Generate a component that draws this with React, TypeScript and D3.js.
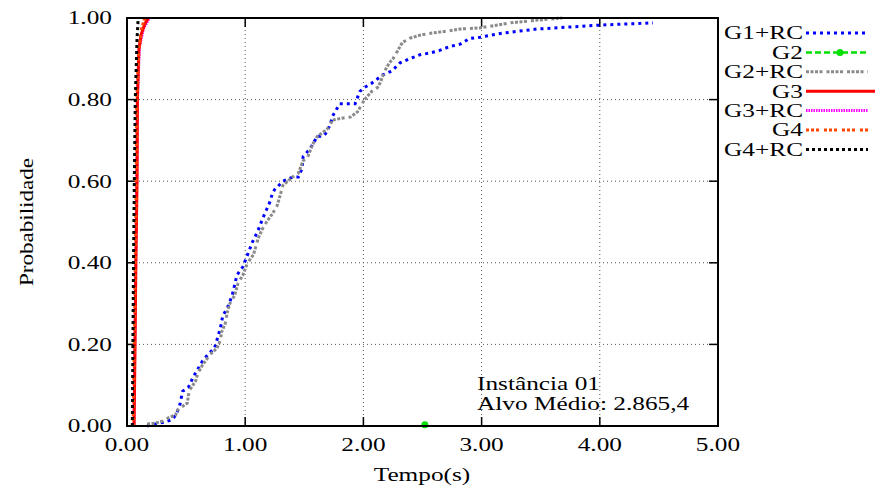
import React from 'react';
import * as d3 from 'd3';

// [tempo, probabilidade]
const g1rc: [number, number][] = [
  [0.17, 0.0], [0.32, 0.01], [0.38, 0.015], [0.42, 0.03], [0.45, 0.055], [0.47, 0.085],
  [0.52, 0.095], [0.56, 0.12], [0.6, 0.14], [0.64, 0.16], [0.7, 0.18], [0.74, 0.19],
  [0.77, 0.22], [0.79, 0.24], [0.81, 0.27], [0.85, 0.29], [0.89, 0.32], [0.93, 0.37],
  [0.98, 0.39], [1.02, 0.42], [1.06, 0.45], [1.11, 0.48], [1.15, 0.51], [1.18, 0.53],
  [1.21, 0.55], [1.23, 0.57], [1.25, 0.58], [1.32, 0.6], [1.4, 0.61], [1.45, 0.61],
  [1.48, 0.63], [1.49, 0.66], [1.52, 0.67], [1.55, 0.68], [1.61, 0.71], [1.66, 0.71],
  [1.69, 0.72], [1.72, 0.74], [1.74, 0.76], [1.8, 0.79], [1.86, 0.79], [1.93, 0.79],
  [1.97, 0.82], [2.01, 0.83], [2.07, 0.84], [2.16, 0.86], [2.24, 0.87], [2.31, 0.89],
  [2.39, 0.9], [2.48, 0.91], [2.56, 0.914], [2.64, 0.92], [2.73, 0.93], [2.82, 0.936],
  [2.9, 0.95], [2.99, 0.953], [3.18, 0.963], [3.47, 0.973], [3.75, 0.978], [4.03, 0.983],
  [4.45, 0.988],
];

const g2: [number, number][] = [[2.52, 0.003]];

const g2rc: [number, number][] = [
  [0.17, 0.005], [0.24, 0.007], [0.3, 0.012], [0.35, 0.02], [0.41, 0.027], [0.43, 0.04],
  [0.51, 0.056], [0.52, 0.076], [0.53, 0.088], [0.58, 0.11], [0.6, 0.13], [0.64, 0.15],
  [0.69, 0.17], [0.72, 0.18], [0.76, 0.19], [0.79, 0.21], [0.8, 0.23], [0.83, 0.25],
  [0.85, 0.28], [0.87, 0.3], [0.91, 0.32], [0.94, 0.35], [0.98, 0.37], [1.02, 0.4],
  [1.07, 0.42], [1.11, 0.46], [1.14, 0.48], [1.18, 0.5], [1.23, 0.52], [1.27, 0.54],
  [1.29, 0.56], [1.32, 0.59], [1.4, 0.61], [1.45, 0.62], [1.49, 0.65], [1.53, 0.66],
  [1.57, 0.69], [1.61, 0.71], [1.66, 0.72], [1.7, 0.73], [1.74, 0.75], [1.83, 0.755],
  [1.89, 0.757], [1.95, 0.77], [1.97, 0.78], [2.01, 0.8], [2.07, 0.82], [2.12, 0.83],
  [2.14, 0.84], [2.18, 0.87], [2.22, 0.89], [2.25, 0.9], [2.29, 0.92], [2.33, 0.94],
  [2.39, 0.95], [2.48, 0.958], [2.58, 0.963], [2.71, 0.968], [2.82, 0.973], [2.99, 0.976],
  [3.24, 0.988], [3.41, 0.993], [3.68, 1.0],
];

const g3: [number, number][] = [
  [0.06, 0.0], [0.068, 0.2], [0.075, 0.4], [0.085, 0.6], [0.088, 0.8], [0.1, 0.92],
  [0.12, 0.96], [0.15, 0.985], [0.18, 1.0],
];

const g3rc: [number, number][] = [
  [0.058, 0.0], [0.066, 0.2], [0.074, 0.4], [0.082, 0.6], [0.088, 0.8], [0.105, 0.93],
  [0.14, 0.975], [0.19, 1.0],
];

const g4: [number, number][] = [
  [0.052, 0.0], [0.062, 0.2], [0.07, 0.4], [0.078, 0.6], [0.082, 0.8], [0.1, 0.92],
  [0.12, 0.97], [0.15, 1.0],
];

const g4rc: [number, number][] = [
  [0.045, 0.0], [0.05, 0.2], [0.055, 0.4], [0.062, 0.6], [0.07, 0.8], [0.085, 0.95],
  [0.095, 1.0],
];

const xTicks = [0, 1, 2, 3, 4, 5];
const yTicks = [0, 0.2, 0.4, 0.6, 0.8, 1.0];

const series = [
  { name: 'G1+RC', data: g1rc, color: '#0000ff', dash: '3 4', width: 3 },
  { name: 'G2', data: g2, color: '#00e000', dash: '6 3', width: 2.5, point: true },
  { name: 'G2+RC', data: g2rc, color: '#8a8a8a', dash: '3 1.5 3 1.5 3 1.5 3 4', width: 3 },
  { name: 'G3', data: g3, color: '#ff0000', dash: null, width: 3 },
  { name: 'G3+RC', data: g3rc, color: '#ff00ff', dash: '1.5 1', width: 3 },
  { name: 'G4', data: g4, color: '#ff4500', dash: '3 2 3 2 3 5', width: 3 },
  { name: 'G4+RC', data: g4rc, color: '#000000', dash: '3 3', width: 3 },
];

const font = '"Liberation Serif", "Times New Roman", Times, serif';
const fs = 22;
// the picture's text is a little wider than it is tall
const sx = 1.15;
const sy = 0.82;

function T(props: { x: number; y: number; anchor?: string; children: React.ReactNode }) {
  return (
    <g transform={`translate(${props.x},${props.y}) scale(${sx},${sy})`}>
      <text dy="0.35em" textAnchor={props.anchor || 'start'} fontFamily={font} fontSize={fs} fill="#000">
        {props.children}
      </text>
    </g>
  );
}

export default function App() {
  const margin = { left: 127, right: 718, top: 18, bottom: 426 };

  const x = d3.scaleLinear().domain([0, 5]).range([margin.left, margin.right]);
  const y = d3.scaleLinear().domain([0, 1]).range([margin.bottom, margin.top]);

  const line = d3.line<[number, number]>()
    .x(d => x(d[0]))
    .y(d => y(d[1]));

  const drawOrder = ['G1+RC', 'G2+RC', 'G2', 'G3+RC', 'G3', 'G4', 'G4+RC'];

  return (
    <div style={{ position: 'absolute', left: 0, top: 0 }}>
      <svg width={878} height={491} style={{ display: 'block', background: '#fff' }}>
        {/* grid */}
        <g stroke="#555" strokeWidth={1} strokeDasharray="1 3">
          {yTicks.slice(1, -1).map(t => (
            <line key={'gy' + t} x1={margin.left} x2={margin.right} y1={y(t)} y2={y(t)} />
          ))}
          {xTicks.slice(1, -1).map(t => (
            <line key={'gx' + t} x1={x(t)} x2={x(t)} y1={margin.top} y2={margin.bottom} />
          ))}
        </g>

        {/* tick marks, mirrored */}
        <g stroke="#000" strokeWidth={1.5}>
          {yTicks.map(t => (
            <g key={'ty' + t}>
              <line x1={margin.left} x2={margin.left + 9} y1={y(t)} y2={y(t)} />
              <line x1={margin.right} x2={margin.right - 9} y1={y(t)} y2={y(t)} />
            </g>
          ))}
          {xTicks.map(t => (
            <g key={'tx' + t}>
              <line x1={x(t)} x2={x(t)} y1={margin.bottom} y2={margin.bottom - 9} />
              <line x1={x(t)} x2={x(t)} y1={margin.top} y2={margin.top + 9} />
            </g>
          ))}
        </g>

        {/* series */}
        {drawOrder.map(n => {
          const s = series.find(d => d.name === n)!;
          if (s.point) {
            return s.data.map((d, i) => (
              <circle key={n + i} cx={x(d[0])} cy={y(d[1])} r={3.5} fill={s.color} />
            ));
          }
          return (
            <path key={n} d={line(s.data) || ''} fill="none" stroke={s.color}
              strokeWidth={s.width} strokeDasharray={s.dash || undefined} />
          );
        })}

        {/* frame */}
        <rect x={margin.left} y={margin.top} width={margin.right - margin.left}
          height={margin.bottom - margin.top} fill="none" stroke="#000" strokeWidth={2} />

        {/* tick labels */}
        {yTicks.map(t => (
          <T key={'ly' + t} x={112} y={y(t)} anchor="end">{d3.format('.2f')(t)}</T>
        ))}
        {xTicks.map(t => (
          <T key={'lx' + t} x={x(t)} y={445} anchor="middle">{d3.format('.2f')(t)}</T>
        ))}

        {/* axis titles */}
        <T x={422} y={475} anchor="middle">Tempo(s)</T>
        <g transform="translate(26,222) rotate(-90) scale(1.05,0.85)">
          <text dy="0.35em" textAnchor="middle" fontFamily={font} fontSize={22}>Probabilidade</text>
        </g>

        {/* annotation */}
        <T x={477} y={384}>Instância 01</T>
        <T x={477} y={404}>Alvo Médio: 2.865,4</T>

        {/* legend */}
        {series.map((s, i) => {
          const ly = 33 + i * 19.4;
          return (
            <g key={'lg' + s.name}>
              <T x={803} y={ly} anchor="end">{s.name}</T>
              <line x1={806} x2={s.name === 'G3' ? 875 : 868} y1={ly} y2={ly} stroke={s.color}
                strokeWidth={s.width} strokeDasharray={s.dash || undefined} />
              {s.point && <circle cx={840} cy={ly} r={3.5} fill={s.color} />}
            </g>
          );
        })}
      </svg>
    </div>
  );
}
